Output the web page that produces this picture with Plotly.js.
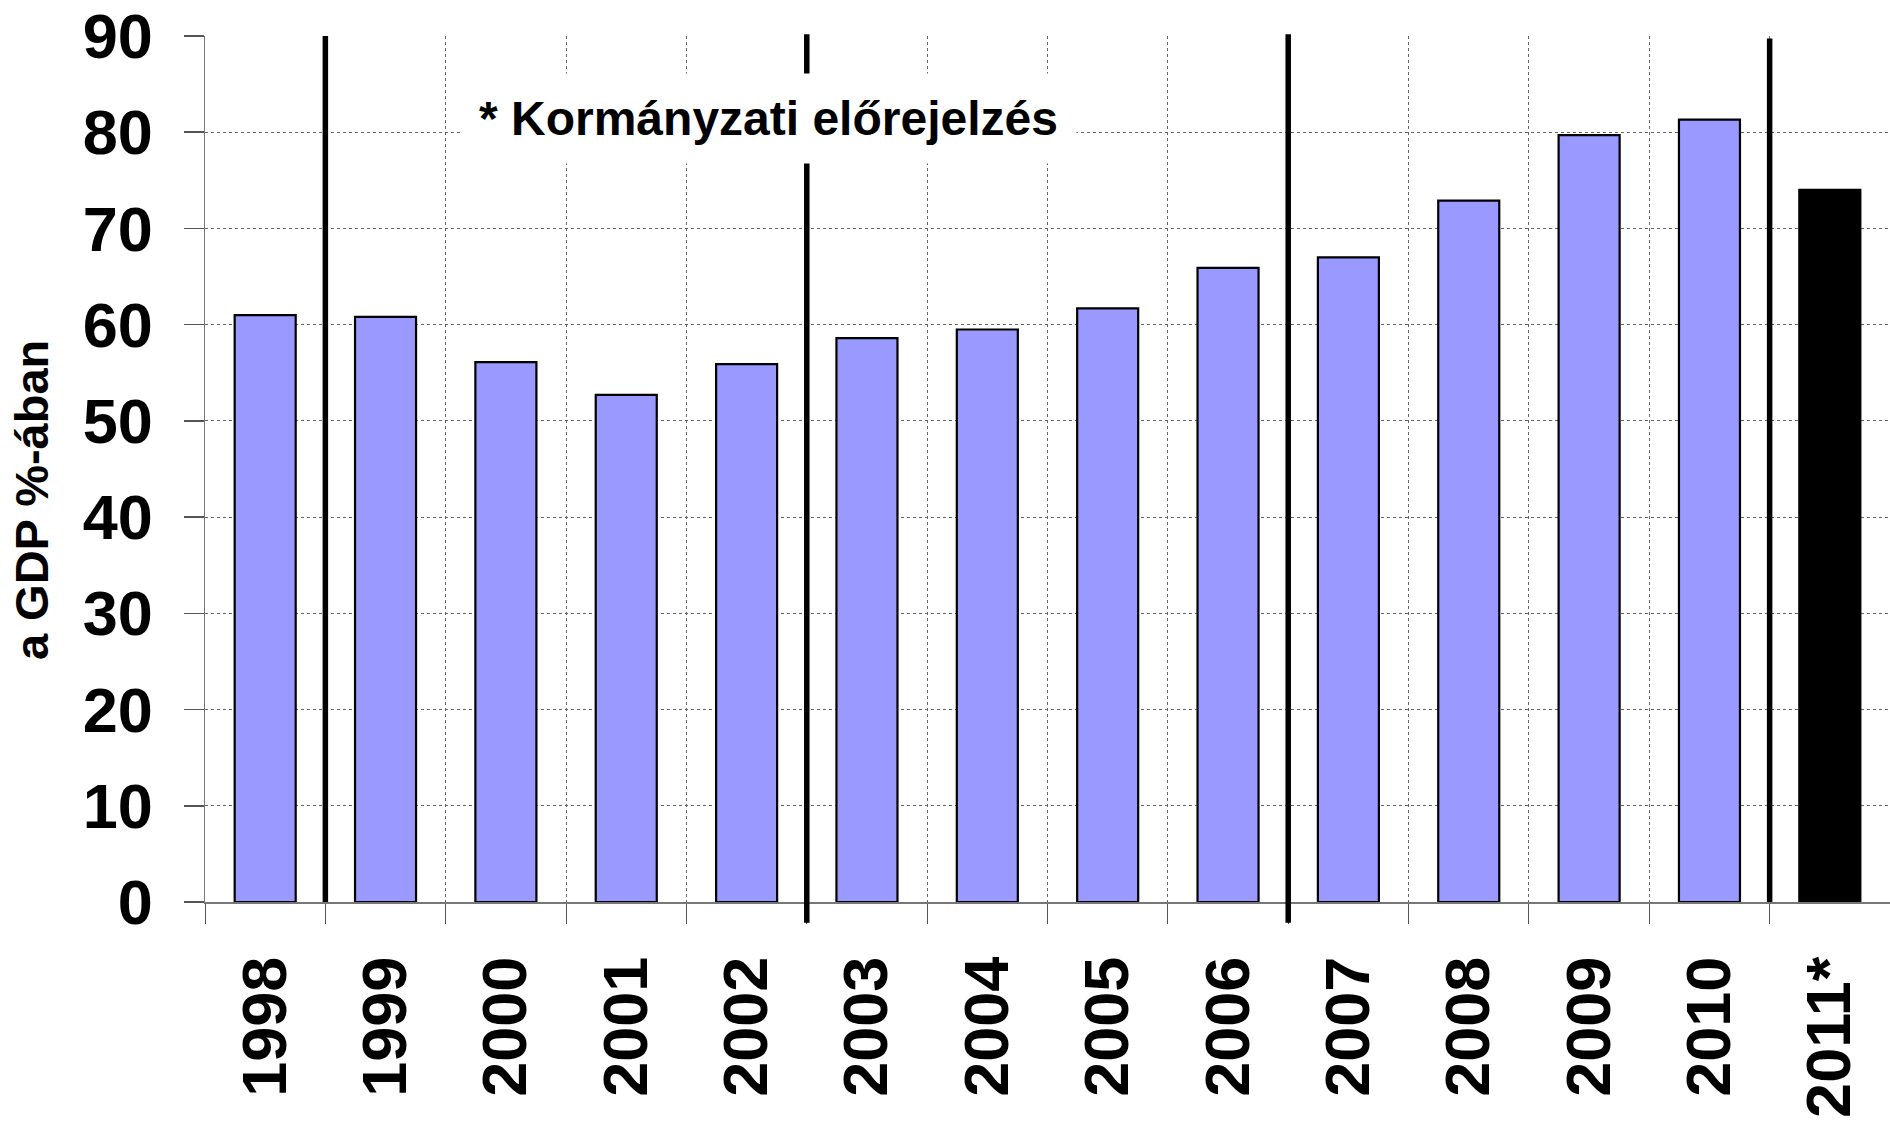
<!DOCTYPE html>
<html>
<head>
<meta charset="utf-8">
<script src="https://cdn.plot.ly/plotly-3.0.1.min.js"></script>
<style>html,body{margin:0;padding:0;background:#fff;} #chart{width:1890px;height:1125px;}</style>
</head>
<body>
<div id="chart"></div>
<script>
// ---- data ----
const years = ['1998','1999','2000','2001','2002','2003','2004','2005','2006','2007','2008','2009','2010','2011*'];
const debtPctGDP = [61.0, 60.8, 56.1, 52.7, 55.9, 58.6, 59.5, 61.7, 65.9, 67.0, 72.9, 79.7, 81.3, 74.0];
const yTicks = [0, 10, 20, 30, 40, 50, 60, 70, 80, 90];
const yTitle = 'a GDP %-ában';
const noteText = '* Kormányzati előrejelzés';
// separators after these categories (government changes)
const separatorsShort = ['1998', '2010'];
const separatorsLong = ['2002', '2006'];

// ---- styling ----
const FONT = 'Liberation Sans, Arial, sans-serif';
const barColors = years.map(y => y.indexOf('*') >= 0 ? '#000000' : '#9999FF');

const shapes = [];
separatorsShort.forEach(c => {
  const xi = years.indexOf(c) + 0.5;
  shapes.push({type:'line', xref:'x', yref:'paper', x0:xi, x1:xi, y0:0, y1:(c==='2010'?0.997:1.0),
    line:{color:'#000', width:5.5}, layer:'above'});
});
separatorsLong.forEach(c => {
  const xi = years.indexOf(c) + 0.5;
  shapes.push({type:'line', xref:'x', yref:'paper', x0:xi, x1:xi, y0:-0.024, y1:1.002,
    line:{color:'#000', width:5.5}, layer:'above'});
});

const trace = {
  type: 'bar',
  x: years,
  y: debtPctGDP,
  marker: {color: barColors, line: {color: '#000', width: 2.2}},
  hoverinfo: 'x+y'
};

const layout = {
  width: 1890, height: 1125,
  margin: {l: 205, r: 0, t: 36, b: 223, pad: 0},
  paper_bgcolor: '#fff', plot_bgcolor: '#fff',
  showlegend: false,
  bargap: 0.493,
  font: {family: FONT, color: '#000'},
  xaxis: {
    type: 'category',
    tickson: 'boundaries',
    ticks: 'outside', ticklen: 20, tickwidth: 1, tickcolor: '#555',
    tickangle: -90,
    tickfont: {family: FONT, size: 63, weight: 'bold', color: '#000'},
    ticklabelstandoff: 28,
    showgrid: true, gridcolor: '#666', griddash: 'dot', gridwidth: 1,
    showline: true, linecolor: '#777', linewidth: 1.5,
    zeroline: false,
    range: [-0.5, years.length - 0.5],
    fixedrange: true
  },
  yaxis: {
    range: [0, 90],
    tickvals: yTicks,
    ticktext: yTicks.map(String),
    ticks: 'outside', ticklen: 20, tickwidth: 1.5, tickcolor: '#555',
    tickfont: {family: FONT, size: 63, weight: 'bold', color: '#000'},
    ticklabelstandoff: 18,
    showgrid: true, gridcolor: '#666', griddash: 'dot', gridwidth: 1,
    showline: true, linecolor: '#777', linewidth: 1.5,
    zeroline: false,
    fixedrange: true
  },
  shapes: shapes,
  annotations: [{
    text: noteText,
    xref: 'paper', yref: 'paper',
    x: 0.3344, y: 0.905, xanchor: 'center', yanchor: 'middle',
    showarrow: false,
    bgcolor: '#fff',
    borderpad: 18,
    font: {family: FONT, size: 48, weight: 'bold', color: '#000'}
  }, {
    text: yTitle,
    xref: 'paper', yref: 'paper',
    x: -0.1033, y: 0.464, xanchor: 'center', yanchor: 'middle',
    textangle: -90,
    showarrow: false,
    font: {family: FONT, size: 47, weight: 'bold', color: '#000'}
  }]
};

Plotly.newPlot('chart', [trace], layout, {displayModeBar: false, staticPlot: true});
</script>
</body>
</html>
